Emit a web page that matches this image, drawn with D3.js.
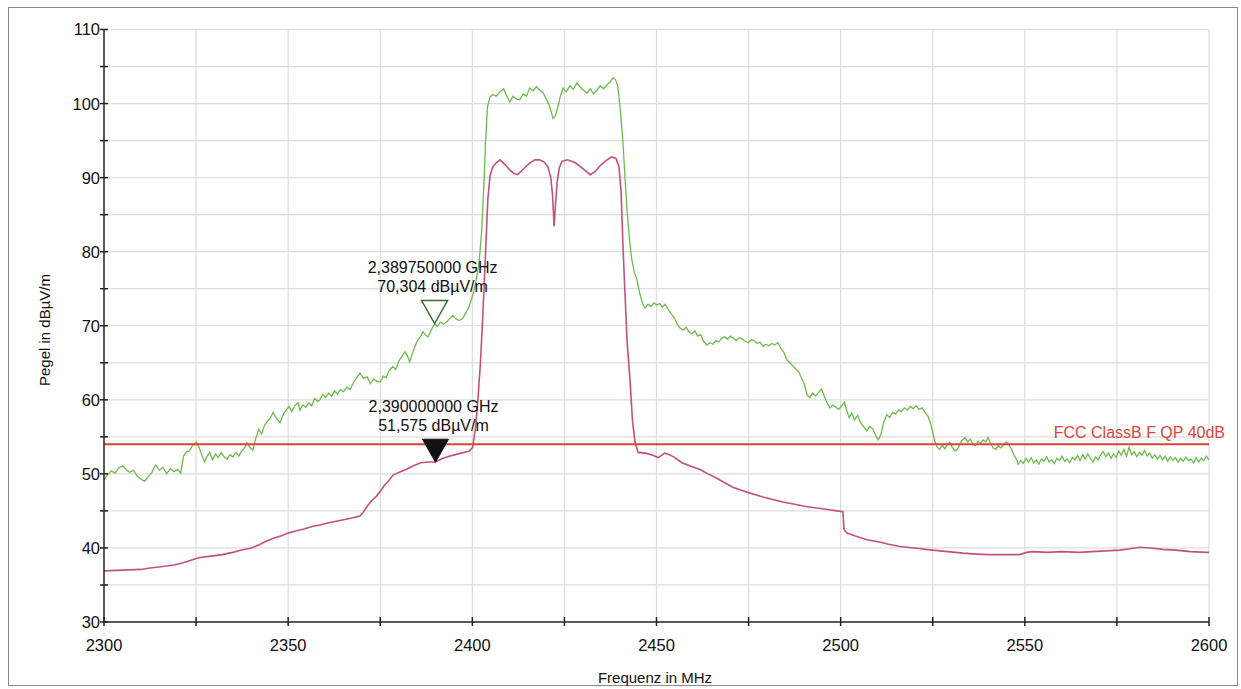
<!DOCTYPE html>
<html>
<head>
<meta charset="utf-8">
<script src="https://cdn.jsdelivr.net/npm/d3@7"></script>
<style>
html,body{margin:0;padding:0;background:#fff;}
svg{display:block;font-family:"Liberation Sans",Arial,sans-serif;}
</style>
</head>
<body>
<svg id="chart" width="1241" height="689"></svg>
<script>
// ---- data ----
const xTicks = [2300, 2350, 2400, 2450, 2500, 2550, 2600];
const xMinorTicks = [2325, 2375, 2425, 2475, 2525, 2575];
const yTicks = [30, 40, 50, 60, 70, 80, 90, 100, 110];
const yMinorTicks = [35, 45, 55, 65, 75, 85, 95, 105];

const greenFreq = [2300,2301,2302,2303,2304,2305,2306,2307,2308,2309,2310,2311,2312,2313,2314,2315,2316,2317,2318,2319,2320,2320.8,2321.6,2322.4,2323.2,2324,2325,2325.8,2326.6,2327.3,2328,2328.7,2329.5,2330.3,2331,2331.8,2332.6,2333.4,2334.2,2335,2335.8,2336.6,2337.4,2338.2,2338.8,2339.6,2340.4,2341.2,2342,2342.8,2343.6,2344.4,2345.2,2345.9,2346.8,2347.8,2348.8,2349.5,2350.2,2351,2351.8,2352.7,2353.2,2354,2354.8,2355.6,2356.4,2357.2,2358,2358.6,2359.4,2360.2,2361,2361.8,2362.6,2363.4,2364.2,2365,2366,2366.8,2367.6,2368.5,2369.5,2370.4,2371.4,2372.3,2373.2,2374.1,2375,2375.8,2376.6,2377.4,2378.4,2379.2,2380,2380.8,2381.7,2382.4,2383,2383.8,2384.5,2385.2,2386,2386.6,2387.3,2388,2388.8,2389.75,2390.5,2391.3,2392.2,2393,2393.9,2394.7,2395.6,2396.5,2397.4,2398.3,2399.1,2399.8,2400.4,2401.1,2401.8,2402.5,2403.1,2403.6,2404.1,2404.8,2405.5,2406.5,2407.5,2408.5,2409.3,2410.2,2411,2412,2412.9,2413.8,2414.7,2415.6,2416.5,2417.4,2418.3,2419.2,2420.2,2421,2421.9,2422.5,2423.2,2423.9,2424.6,2425.5,2426.5,2427.4,2428.4,2429.3,2430.2,2431.1,2432,2432.9,2433.8,2434.7,2435.6,2436.5,2437.4,2438.2,2438.9,2439.5,2440.2,2440.9,2441.5,2442,2442.7,2443.3,2444,2444.7,2445.5,2446.2,2446.9,2447.7,2448.5,2449.3,2450.1,2450.9,2451.6,2452.4,2453.2,2454,2454.8,2455.6,2456.4,2457.2,2458,2458.8,2459.6,2460.4,2461.2,2462,2462.8,2463.7,2464.5,2465.3,2466.1,2466.9,2467.7,2468.5,2469.3,2470.1,2470.9,2471.7,2472.5,2473.3,2474.1,2474.9,2475.7,2476.5,2477.3,2478.1,2478.9,2479.7,2480.5,2481.3,2482.1,2483,2483.8,2484.6,2485.4,2486.2,2487,2487.8,2488.6,2489.4,2490.2,2490.9,2491.6,2492.4,2493.2,2494,2494.8,2495.6,2496.3,2497.1,2497.9,2498.7,2499.5,2500.3,2501,2501.6,2502.3,2503,2503.8,2504.6,2505.4,2506.2,2507.1,2507.9,2508.7,2509.5,2510.2,2510.9,2511.6,2512.5,2513.3,2514.1,2514.9,2515.7,2516.5,2517.3,2518.1,2518.9,2519.7,2520.5,2521.3,2522.1,2522.9,2523.7,2524.4,2525,2525.6,2526.2,2526.9,2527.6,2528.3,2529,2529.6,2530.3,2531,2531.7,2532.4,2533.1,2533.8,2534.5,2535.2,2535.9,2536.6,2537.3,2538,2538.7,2539.4,2540,2540.7,2541.4,2542.1,2542.8,2543.5,2544.2,2544.9,2545.6,2546.3,2547,2547.6,2548.2,2548.9,2549.6,2550.3,2551,2551.7,2552.4,2553.1,2553.8,2554.5,2555.2,2555.9,2556.6,2557.3,2558,2558.7,2559.4,2560.1,2560.8,2561.5,2562.2,2562.9,2563.6,2564.3,2565,2565.7,2566.4,2567.1,2567.8,2568.5,2569.2,2569.9,2570.6,2571.3,2572,2572.7,2573.4,2574.1,2574.8,2575.5,2576.2,2576.9,2577.6,2578.3,2579,2579.7,2580.4,2581.1,2581.8,2582.5,2583.2,2583.9,2584.6,2585.3,2586,2586.7,2587.4,2588.1,2588.8,2589.5,2590.2,2590.9,2591.6,2592.3,2593,2593.7,2594.4,2595.1,2595.8,2596.5,2597.2,2597.9,2598.6,2599.3,2600];
const greenLevel = [49.2,49.9,50.4,50.1,50.8,51.1,50.6,50.2,50.5,49.7,49.3,49.0,49.6,50.2,51.2,50.5,50.9,50.0,50.7,50.3,50.6,50.1,52.4,53.0,53.1,53.8,54.3,53.6,52.5,51.6,52.4,52.9,51.9,52.7,52.2,52.9,52.3,52.0,52.6,52.3,52.9,52.4,53.1,53.5,54.2,53.6,53.2,54.8,56.0,55.4,56.6,57.1,57.6,58.3,57.5,56.9,58.2,58.6,59.1,58.4,59.2,59.6,58.6,59.3,59.0,59.6,59.2,60.2,59.8,60.0,60.7,60.3,60.9,60.5,61.2,60.8,61.4,61.1,61.7,61.4,62.2,62.9,63.6,62.9,63.1,62.2,62.8,62.5,62.4,63.2,63.0,63.9,64.5,64.1,65.2,65.8,66.5,65.9,65.1,66.4,67.3,68.1,68.6,69.2,68.7,68.5,69.4,70.3,69.9,70.5,70.2,70.5,71.0,71.4,70.9,70.7,71.0,71.8,72.6,73.6,74.6,76.3,78.4,82.5,88.5,95.0,99.5,100.9,101.2,101.0,101.6,102.0,101.1,100.2,101.0,100.6,100.5,101.3,101.0,102.1,101.7,102.3,101.8,101.5,100.5,99.6,98.0,98.3,99.5,101.0,102.1,101.6,102.4,101.9,102.8,102.2,101.8,101.4,102.0,101.3,101.8,102.4,102.0,102.5,102.9,103.5,103.2,102.3,99.0,94.7,89.5,85.6,81.5,78.9,77.2,76.2,74.3,73.0,72.4,72.9,72.6,73.1,72.8,73.0,72.5,72.9,72.2,71.6,71.1,70.2,69.7,69.4,69.8,69.2,68.9,69.3,68.6,68.8,67.9,67.4,67.7,67.5,68.0,67.8,68.3,68.5,68.2,68.6,68.3,68.0,68.4,68.2,67.9,67.7,68.1,68.0,67.6,67.8,67.2,67.5,67.3,67.6,67.4,67.7,66.9,66.4,65.4,65.0,64.6,64.2,63.8,62.9,62.0,60.6,60.3,60.9,60.5,61.0,61.5,60.4,59.6,58.9,59.3,59.0,58.7,59.2,59.7,58.6,57.6,58.2,57.3,57.9,56.9,56.4,55.8,56.4,56.1,55.2,54.6,55.3,56.8,58.0,57.6,58.3,58.1,58.6,58.4,58.9,58.6,59.1,58.8,59.2,58.7,58.9,58.3,57.8,56.8,55.6,54.4,53.6,53.3,53.9,53.4,54.0,54.3,53.6,53.1,53.3,54.1,54.6,54.9,54.3,54.7,54.0,53.8,54.4,54.2,54.6,54.3,54.9,54.1,53.5,53.3,53.8,53.5,53.9,54.3,54.0,53.4,52.6,52.1,51.3,51.8,51.4,52.1,51.6,52.2,51.5,51.9,51.3,52.0,51.7,52.3,51.6,51.9,51.4,52.1,51.8,52.4,51.7,52.0,51.5,52.2,51.9,52.5,51.8,52.6,52.0,52.7,52.1,51.6,52.3,51.9,52.6,53.0,52.3,52.8,52.1,52.7,52.2,53.1,52.5,53.3,52.4,53.6,52.6,53.0,52.3,52.9,52.5,53.2,52.4,52.8,52.1,52.6,52.0,52.5,51.9,52.4,51.7,52.3,51.8,52.2,51.6,52.1,51.7,52.3,51.8,52.0,51.5,52.2,51.6,52.1,51.8,52.4,51.9];

const pinkFreq = [2300,2305,2310,2312.5,2316,2319,2321.5,2324,2326,2329,2332,2335,2337,2340,2342,2344,2346,2348,2350,2352,2354.5,2356.5,2358.6,2361,2363,2365,2367,2369.5,2370.5,2371.4,2372.7,2374,2375.2,2376.2,2377.2,2378.4,2380,2382,2384,2386,2388,2390,2392,2394.6,2397,2399.2,2400.1,2400.8,2401.5,2402.2,2402.9,2403.6,2404.2,2404.8,2405.5,2406.5,2407.5,2408.8,2410.2,2411.2,2412.3,2413.5,2415.6,2417,2418.3,2419.5,2420.5,2421.3,2421.8,2422.2,2422.6,2423,2423.6,2424.3,2425.8,2428,2430,2432,2433.3,2434.5,2436,2437.8,2439,2439.8,2440.4,2440.8,2441.3,2442,2442.8,2443.5,2444.2,2445,2447,2449,2450.5,2452.2,2453.5,2455,2456.9,2459,2461.8,2464,2466.4,2468.5,2470.7,2473,2475.4,2478,2481,2484.3,2487.5,2490.5,2493.5,2496.5,2499,2500.6,2500.9,2501.7,2504,2507.1,2510.6,2513,2516.1,2520,2525,2529,2533.2,2536,2539.7,2544,2548.6,2550.5,2552.2,2556,2560,2564.9,2568,2572,2575.8,2578.5,2581.2,2584,2587.5,2591,2595,2599.4,2600];
const pinkLevel = [36.9,37.0,37.1,37.3,37.5,37.7,38.0,38.4,38.7,38.9,39.1,39.4,39.7,40.0,40.4,40.9,41.3,41.6,42.0,42.3,42.6,42.9,43.1,43.4,43.6,43.8,44.0,44.3,44.9,45.6,46.4,47.0,47.8,48.5,49.0,49.8,50.2,50.6,51.1,51.5,51.6,51.6,52.1,52.5,52.8,53.1,53.6,56.0,60.0,65.0,72.0,80.0,87.0,90.2,91.4,92.0,92.4,91.8,91.0,90.6,90.4,91.0,92.0,92.4,92.4,92.1,91.5,90.0,87.5,83.4,86.5,89.3,91.3,92.2,92.4,92.0,91.2,90.4,90.8,91.5,92.2,92.8,92.6,91.5,88.0,82.0,76.0,68.0,62.7,57.0,54.2,52.9,52.8,52.5,52.2,52.8,52.6,52.2,51.5,51.1,50.6,50.0,49.4,48.8,48.2,47.8,47.4,47.0,46.6,46.2,45.9,45.6,45.4,45.2,45.0,44.9,42.5,42.0,41.6,41.1,40.8,40.5,40.2,40.0,39.7,39.5,39.3,39.2,39.1,39.1,39.1,39.4,39.5,39.4,39.5,39.4,39.5,39.6,39.7,39.9,40.1,40.0,39.8,39.7,39.5,39.4,39.4];

const limitFreq = [2300, 2600];
const limitLevel = [54, 54];
const limitName = "FCC ClassB F QP 40dB";

const markerFreq = [2389.75, 2390];
const markerLevel = [70.304, 51.575];
const markerLine1 = ["2,389750000 GHz", "2,390000000 GHz"];
const markerLine2 = ["70,304 dBµV/m", "51,575 dBµV/m"];

const xTitle = "Frequenz in MHz";
const yTitle = "Pegel in dBµV/m";

// ---- drawing ----
const svg = d3.select("#chart");
const x = d3.scaleLinear().domain([2300, 2600]).range([104, 1209]);
const y = d3.scaleLinear().domain([30, 110]).range([622, 29.5]);

// outer frame
svg.append("rect").attr("x", 8.5).attr("y", 7.5).attr("width", 1229).attr("height", 678)
  .attr("fill", "none").attr("stroke", "#8a8a8a").attr("stroke-width", 1);

// grid
const grid = svg.append("g").attr("stroke", "#dcdcdc").attr("stroke-width", 1.2);
xTicks.concat(xMinorTicks).filter(d => d !== 2300).forEach(d => {
  grid.append("line").attr("x1", x(d)).attr("x2", x(d)).attr("y1", y(110)).attr("y2", y(30));
});
yTicks.concat(yMinorTicks).filter(d => d !== 30).forEach(d => {
  grid.append("line").attr("x1", x(2300)).attr("x2", x(2600)).attr("y1", y(d)).attr("y2", y(d));
});

// traces
const line = d3.line().x(d => x(d[0])).y(d => y(d[1]));
svg.append("path").datum(pinkFreq.map((f, i) => [f, pinkLevel[i]]))
  .attr("d", line).attr("fill", "none").attr("stroke", "#c4507e").attr("stroke-width", 1.6);
svg.append("path").datum(greenFreq.map((f, i) => [f, greenLevel[i]]))
  .attr("d", line).attr("fill", "none").attr("stroke", "#6dbb4f").attr("stroke-width", 1.3);

// limit line
svg.append("path").datum(limitFreq.map((f, i) => [f, limitLevel[i]]))
  .attr("d", line).attr("fill", "none").attr("stroke", "#e0403a").attr("stroke-width", 2);
svg.append("text").attr("x", 1225).attr("y", y(54) - 6).attr("text-anchor", "end")
  .attr("font-size", 16).attr("fill", "#d8463e").text(limitName);

// axes
const axes = svg.append("g").attr("stroke", "#222").attr("stroke-width", 1.5);
axes.append("line").attr("x1", x(2300)).attr("x2", x(2300)).attr("y1", y(110)).attr("y2", y(30));
axes.append("line").attr("x1", x(2300)).attr("x2", x(2600)).attr("y1", y(30)).attr("y2", y(30));
yTicks.concat(yMinorTicks).forEach(d => {
  axes.append("line").attr("x1", x(2300) - 4).attr("x2", x(2300) + 4).attr("y1", y(d)).attr("y2", y(d));
});
xTicks.concat(xMinorTicks).forEach(d => {
  axes.append("line").attr("x1", x(d)).attr("x2", x(d)).attr("y1", y(30) - 5).attr("y2", y(30) + 4);
});

// tick labels
svg.append("g").selectAll("text").data(yTicks).join("text")
  .attr("x", x(2300) - 4).attr("y", d => y(d)).attr("dy", "0.36em")
  .attr("text-anchor", "end").attr("font-size", 16.5).attr("fill", "#111").text(d => d);
svg.append("g").selectAll("text").data(xTicks).join("text")
  .attr("x", d => x(d)).attr("y", y(30) + 29)
  .attr("text-anchor", "middle").attr("font-size", 16.5).attr("fill", "#111").text(d => d);

// axis titles
svg.append("text").attr("x", 655).attr("y", 683).attr("text-anchor", "middle")
  .attr("font-size", 15).attr("fill", "#111").text(xTitle);
svg.append("text").attr("transform", "translate(50,330) rotate(-90)").attr("text-anchor", "middle")
  .attr("font-size", 15).attr("fill", "#111").text(yTitle);

// markers
const mk = svg.append("g");
markerFreq.forEach((f, i) => {
  const px = x(f), py = y(markerLevel[i]);
  const tri = `M${px - 13},${py - 23} L${px + 13},${py - 23} L${px},${py} Z`;
  if (i === 0) {
    mk.append("path").attr("d", tri).attr("fill", "#fff").attr("stroke", "#3b6b3b").attr("stroke-width", 1.5);
  } else {
    mk.append("path").attr("d", tri).attr("fill", "#111").attr("stroke", "#111").attr("stroke-width", 1);
  }
  mk.append("text").attr("x", px - 2).attr("y", py - 50).attr("text-anchor", "middle")
    .attr("font-size", 16).attr("fill", "#111").text(markerLine1[i]);
  mk.append("text").attr("x", px - 2).attr("y", py - 31).attr("text-anchor", "middle")
    .attr("font-size", 16).attr("fill", "#111").text(markerLine2[i]);
});
</script>
</body>
</html>
